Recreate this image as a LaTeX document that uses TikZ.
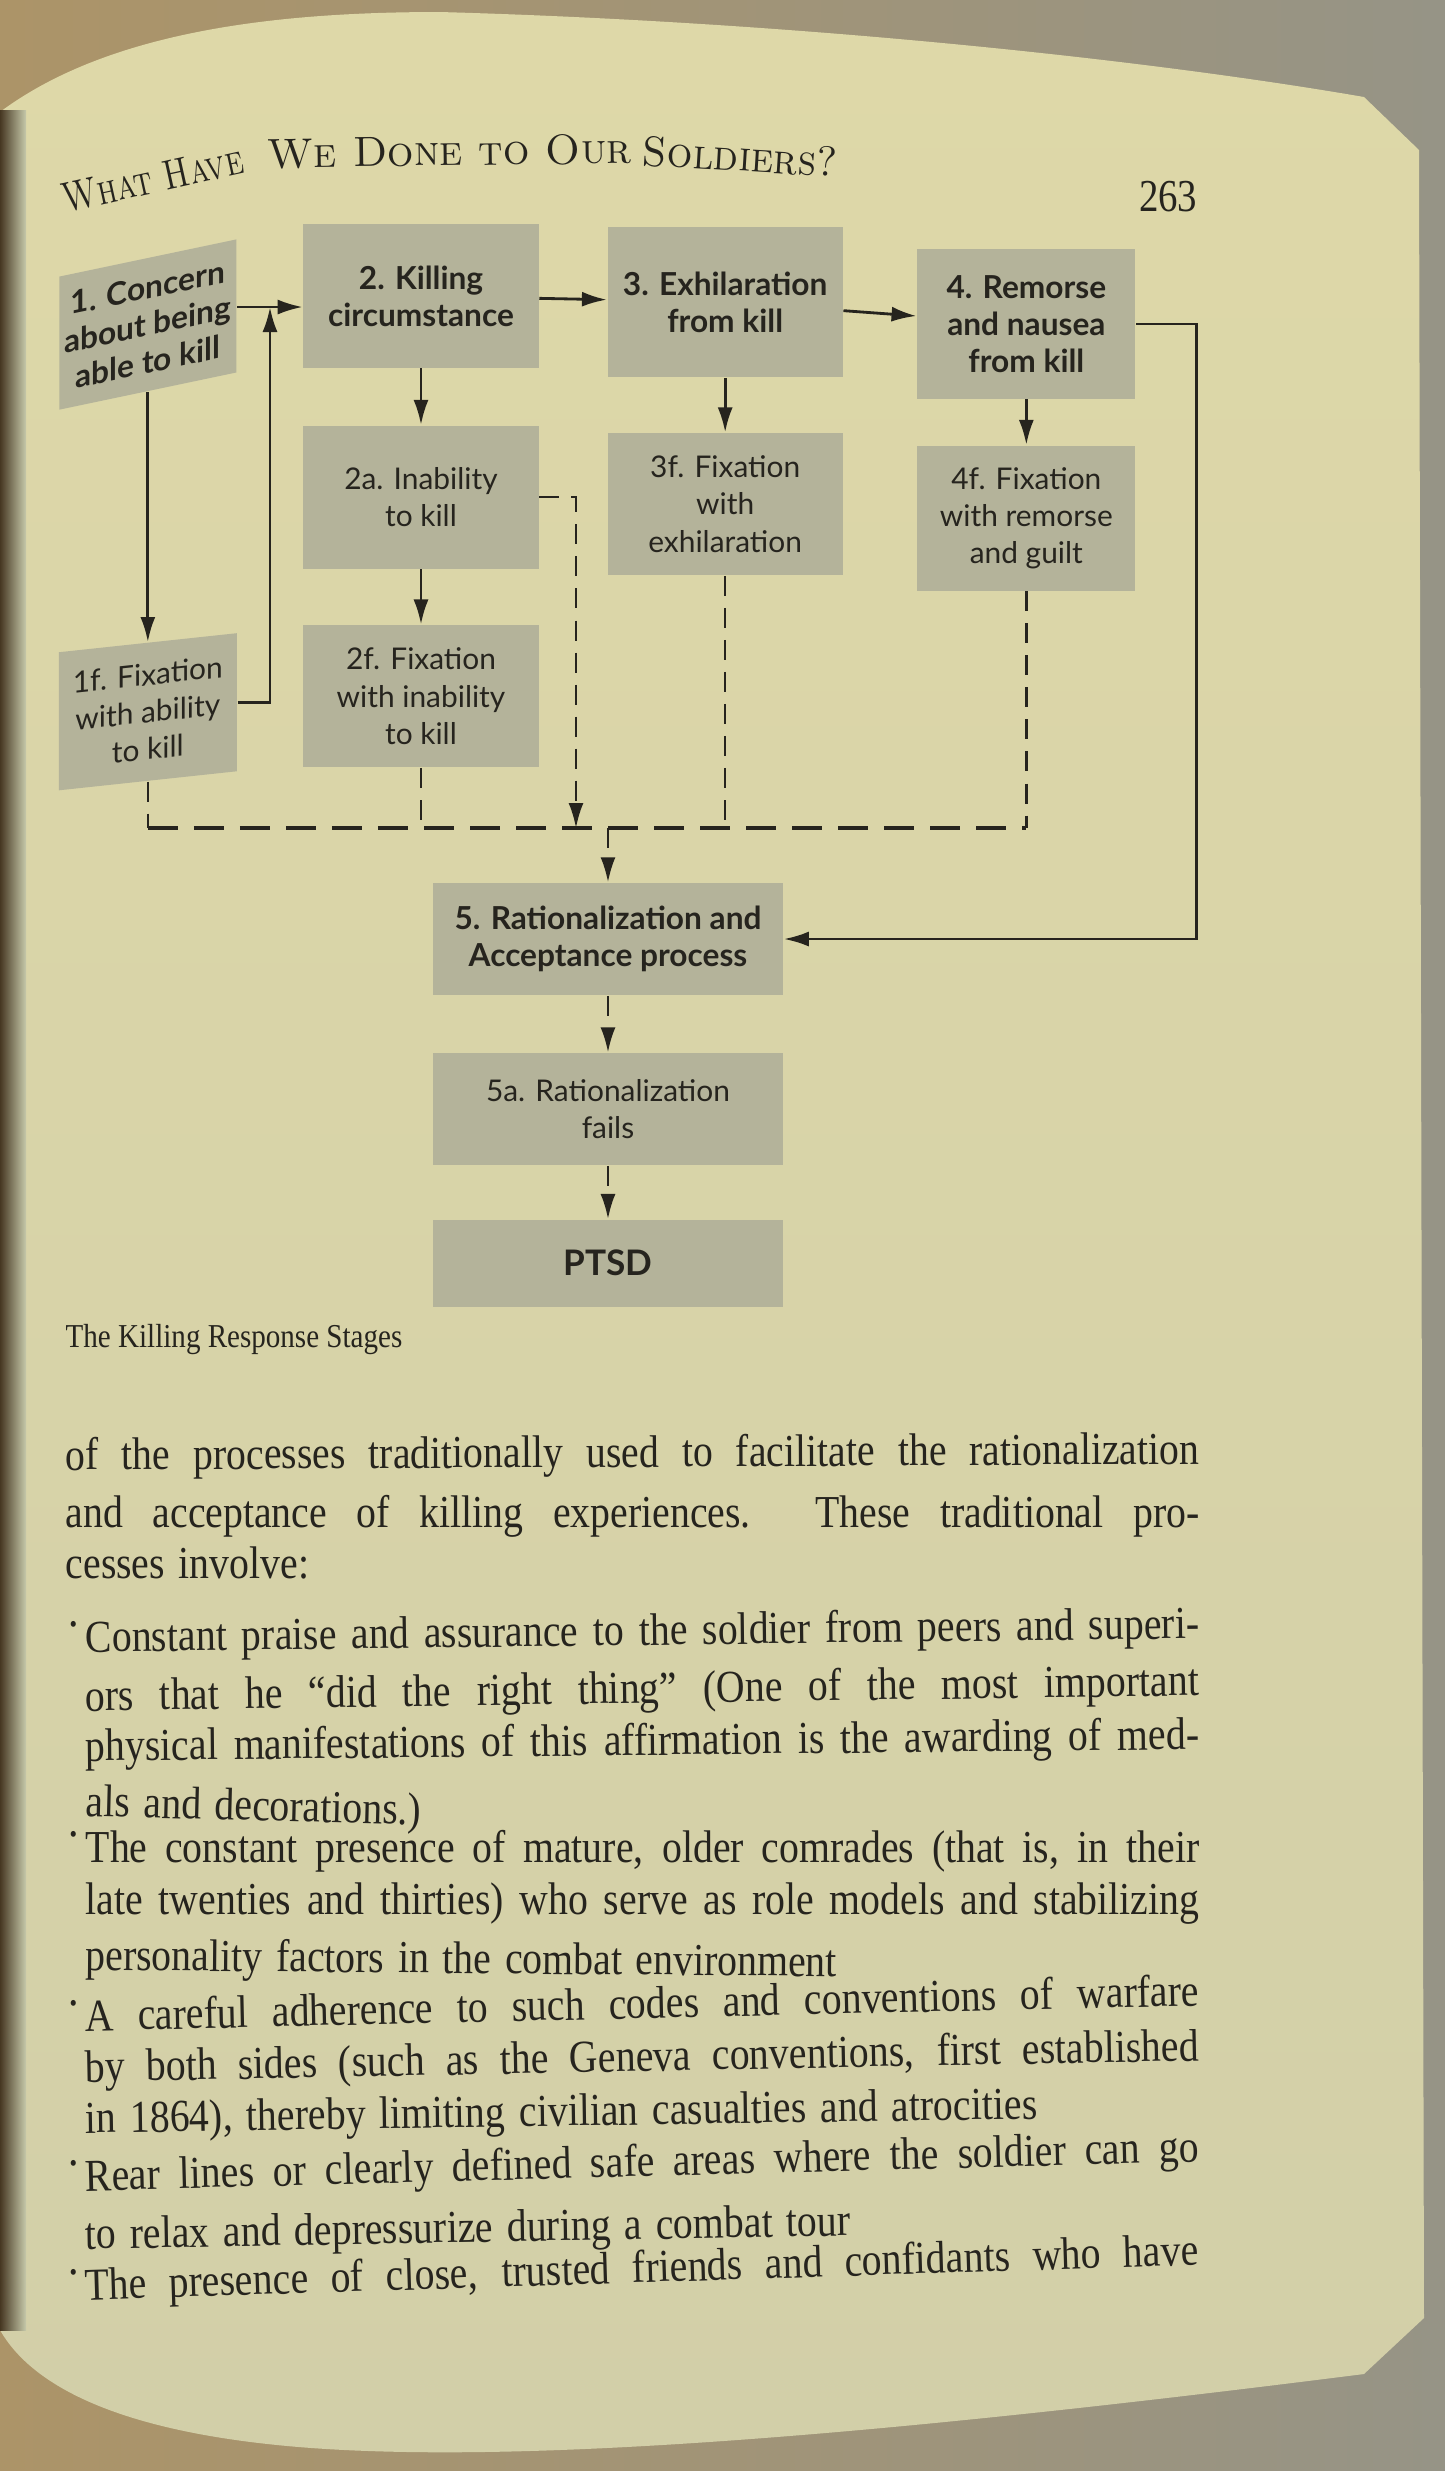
\documentclass[tikz,border=0pt]{standalone}
\usepackage{fontspec}
\newfontfamily\diagfont{Lato}
\newfontfamily\bookfont[FakeStretch=0.87]{Liberation Serif}
\newfontfamily\folfont[FakeStretch=0.85]{Liberation Serif}
\usepackage{tikz}
\usetikzlibrary{positioning, arrows.meta, calc}

\definecolor{outerbg}{RGB}{150,148,134}
\definecolor{outerwarm}{RGB}{172,148,104}
\definecolor{gutter}{RGB}{70,55,34}
\definecolor{pagetop}{RGB}{222,216,168}
\definecolor{pagemid}{RGB}{198,201,170}
\definecolor{pagebot}{RGB}{210,207,168}
\definecolor{boxgray}{RGB}{180,179,154}
\definecolor{ink}{RGB}{38,36,30}

\begin{document}
\begin{tikzpicture}[x=0.01cm, y=-0.01cm, auto, node distance=2cm, >={Latex[length=2.5mm,width=1.5mm]}]

% Define styles
\tikzstyle{stage} = [rectangle, fill=boxgray, text=ink, align=center, inner sep=1pt, minimum width=2.35cm, minimum height=1.43cm, font=\diagfont\bfseries\fontsize{9}{10.6}\selectfont]
\tikzstyle{fixation} = [stage, font=\diagfont\fontsize{8.5}{10.6}\selectfont]
\tikzstyle{arrow} = [draw=ink, line width=0.8pt]
\tikzstyle{dashline} = [draw=ink, line width=0.7pt, dash pattern=on 2mm off 1.2mm]
\tikzstyle{bus} = [draw=ink, line width=1pt, dash pattern=on 3mm off 1.6mm]
\tikzstyle{runhead} = [anchor=base west, inner sep=0pt, text=ink, font=\fontsize{12}{14}\selectfont\scshape]
\tikzstyle{bodyline} = [anchor=base west, inner sep=0pt, text=ink, font={\bookfont\fontsize{13}{15}\selectfont\spaceskip=.3em plus .5em minus .12em}]
\tikzstyle{bullet} = [bodyline, yshift=2mm, font=\bookfont\fontsize{7}{7}\selectfont]

\useasboundingbox (0,0) rectangle (1445,2471);

% Page backdrop
\shade [left color=outerwarm, right color=outerbg] (0,0) rectangle (1445,2471);
\shade [top color=pagetop, middle color=pagemid, bottom color=pagebot]
  (0,112) .. controls (110,30) and (280,12) .. (440,12)
  .. controls (800,22) and (1150,60) .. (1364,97) -- (1419,150) -- (1424,2318) -- (1364,2374)
  .. controls (1000,2420) and (620,2460) .. (369,2451)
  .. controls (160,2444) and (40,2400) .. (0,2330) -- cycle;
\shade [left color=gutter, right color=pagemid] (0,110) rectangle (26,2330);

% Running head
\node [runhead, rotate=12.5] (head1) at (65,213) {\scalebox{0.76}[1]{What Have}};
\node [runhead, rotate=0.8] (head2) at (267,168) {\scalebox{0.99}[1]{We Done to Our}};
\node [runhead, rotate=-3.5] (head3) at (641,165) {\scalebox{0.96}[1]{Soldiers?}};
\node [bodyline, anchor=base east, font=\folfont\fontsize{13}{15}\selectfont] (pageno) at (1198,211) {263};

% Nodes
\node [stage] (s2) at (421,296) {2. Killing\\ circumstance};
\node [stage, right of=s2, node distance=3.04cm, yshift=-0.6mm, minimum height=1.5cm] (s3) {3. Exhilaration\\ from kill};
\node [stage, right of=s3, node distance=3.01cm, yshift=-2.2mm, minimum width=2.18cm, minimum height=1.49cm] (s4) {4. Remorse\\ and nausea\\ from kill};
\node [stage, left of=s2, node distance=2.73cm, yshift=-2.85mm, minimum width=1.77cm, minimum height=1.33cm, yslant=0.21] (s1) {1. Concern\\ about being\\ able to kill};
\node [fixation, below of=s2, node distance=2.01cm] (s2a) {2a. Inability\\ to kill};
\node [fixation, below of=s2a, node distance=1.99cm, minimum height=1.42cm] (s2f) {2f. Fixation\\ with inability\\ to kill};
\node [fixation, below of=s3, node distance=2.02cm, minimum height=1.42cm] (s3f) {3f. Fixation\\ with\\ exhilaration};
\node [fixation, below of=s4, node distance=1.94cm, minimum width=2.18cm, minimum height=1.45cm] (s4f) {4f. Fixation\\ with remorse\\ and guilt};
\node [fixation, below of=s1, node distance=3.87cm, minimum width=1.78cm, minimum height=1.38cm, yslant=0.107] (s1f) {1f. Fixation\\ with ability\\ to kill};
\node [stage, minimum width=3.5cm, minimum height=1.12cm] (s5) at (608,939) {5. Rationalization and\\ Acceptance process};
\node [fixation, below of=s5, node distance=1.70cm, minimum width=3.5cm, minimum height=1.12cm] (s5a) {5a. Rationalization\\ fails};
\node [stage, below of=s5a, node distance=1.54cm, minimum width=3.5cm, minimum height=0.87cm, font=\diagfont\bfseries\fontsize{10}{12}\selectfont] (ptsd) {PTSD};

\coordinate (up1) at (270,307);
\coordinate (bus) at (608,828);
\coordinate (j2a) at (576,828);

% Connections
\draw [arrow, ->] (s1.east |- up1) -- (s2.west |- up1);
\draw [arrow, ->] (s1f.east) -| (up1);
\draw [arrow, ->] (s2) -- (s3);
\draw [arrow, ->] (s3) -- (s4);
\draw [arrow, ->] (s1) -- (s1f);
\draw [arrow, ->] (s2) -- (s2a);
\draw [arrow, ->] (s2a) -- (s2f);
\draw [arrow, ->] (s3) -- (s3f);
\draw [arrow, ->] (s4) -- (s4f);
\draw [arrow, ->] (s4.east) -- ++(60,0) |- (s5.east);
\draw [dashline, ->] (s2a.east) -| (j2a);
\draw [dashline] (s1f) -- (s1f |- bus);
\draw [dashline] (s2f) -- (s2f |- bus);
\draw [dashline] (s3f) -- (s3f |- bus);
\draw [dashline] (s4f) -- (s4f |- bus);
\draw [bus] (s1f |- bus) -- (s4f |- bus);
\draw [dashline, ->] (bus) -- (s5);
\draw [dashline, ->] (s5) -- (s5a);
\draw [dashline, ->] (s5a) -- (ptsd);

% Caption and running text
\node [bodyline, font=\bookfont\fontsize{9.5}{11}\selectfont] (caption) at (65,1347) {The Killing Response Stages};
\node [bodyline, rotate=0.3] (p1) at (65,1470) {\makebox[11.33cm][s]{of the processes traditionally used to facilitate the rationalization}};
\node [bodyline] (p2) at (65,1527) {\makebox[11.33cm][s]{and acceptance of killing experiences. These traditional pro-}};
\node [bodyline] (p3) at (65,1578) {cesses involve:};

\node [bullet] (b1) at (69,1652) {\textbullet};
\node [bodyline, rotate=0.7] (b1a) at (85,1652) {\makebox[11.13cm][s]{Constant praise and assurance to the soldier from peers and superi-}};
\node [bodyline, rotate=0.8] (b1b) at (85,1711) {\makebox[11.13cm][s]{ors that he “did the right thing” (One of the most important}};
\node [bodyline, rotate=0.6] (b1c) at (85,1761) {\makebox[11.13cm][s]{physical manifestations of this affirmation is the awarding of med-}};
\node [bodyline, rotate=-1.5] (b1d) at (85,1816) {als and decorations.)};

\node [bullet] (b2) at (69,1862) {\textbullet};
\node [bodyline] (b2a) at (85,1862) {\makebox[11.13cm][s]{The constant presence of mature, older comrades (that is, in their}};
\node [bodyline] (b2b) at (85,1914) {\makebox[11.13cm][s]{late twenties and thirties) who serve as role models and stabilizing}};
\node [bodyline, rotate=-0.5] (b2c) at (85,1970) {personality factors in the combat environment};

\node [bullet] (b3) at (69,2031) {\textbullet};
\node [bodyline, rotate=1.3] (b3a) at (85,2031) {\makebox[11.13cm][s]{A careful adherence to such codes and conventions of warfare}};
\node [bodyline, rotate=1.1] (b3b) at (85,2082) {\makebox[11.13cm][s]{by both sides (such as the Geneva conventions, first established}};
\node [bodyline, rotate=0.85] (b3c) at (85,2133) {in 1864), thereby limiting civilian casualties and atrocities};

\node [bullet] (b4) at (69,2191) {\textbullet};
\node [bodyline, rotate=1.5] (b4a) at (85,2191) {\makebox[11.13cm][s]{Rear lines or clearly defined safe areas where the soldier can go}};
\node [bodyline, rotate=1.0] (b4b) at (85,2249) {to relax and depressurize during a combat tour};

\node [bullet] (b5) at (69,2300) {\textbullet};
\node [bodyline, rotate=1.8] (b5a) at (85,2300) {\makebox[11.13cm][s]{The presence of close, trusted friends and confidants who have}};

\end{tikzpicture}
\end{document}
